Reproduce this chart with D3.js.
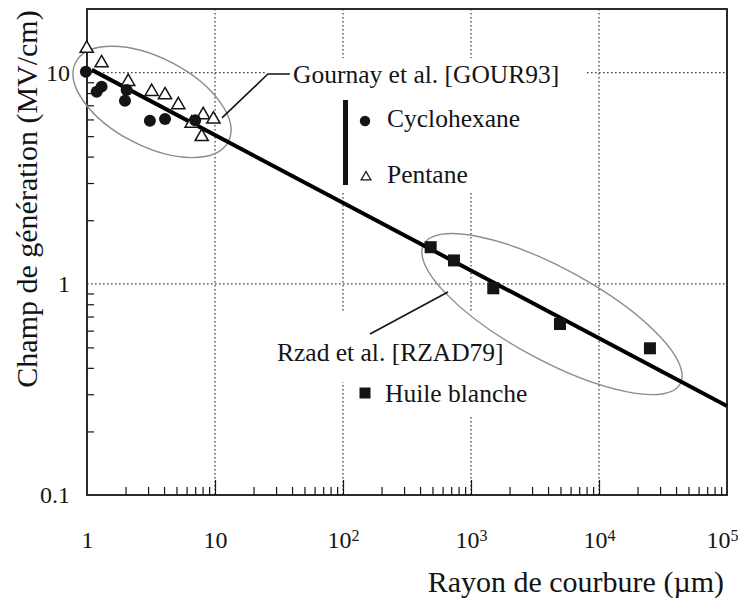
<!DOCTYPE html>
<html>
<head>
<meta charset="utf-8">
<script src="https://cdn.jsdelivr.net/npm/d3@7"></script>
<style>
  body { margin: 0; background: #fff; }
  svg { display: block; }
  svg text { font-family: "Liberation Serif", Tinos, "DejaVu Serif", serif; }
</style>
</head>
<body>
<svg id="chart" width="738" height="605" font-family="Liberation Serif, serif"></svg>
<script>
// Cyclohexane (filled circles) - Gournay et al.
const cycloX = [0.98, 1.19, 1.30, 2.04, 1.98, 3.10, 4.07, 7.0];
const cycloY = [10.1, 8.12, 8.58, 8.27, 7.35, 5.92, 6.03, 5.95];

// Pentane (open triangles) - Gournay et al.
const pentX = [0.995, 1.30, 2.10, 3.20, 4.07, 5.17, 6.57, 8.09, 9.72, 7.87];
const pentY = [13.0, 11.1, 9.06, 8.12, 7.83, 7.03, 5.75, 6.30, 6.01, 4.97];

// Huile blanche (filled squares) - Rzad et al.
const huileX = [484, 736, 1493, 4955, 25000];
const huileY = [1.49, 1.29, 0.952, 0.645, 0.495];

// fitted line
const fitX = [1.09, 1e5];
const fitY = [10.3, 0.264];

// ticks
const xTicks = [1, 10, 100, 1000, 10000, 100000];
const xTickLabels = ["1", "10", "10^2", "10^3", "10^4", "10^5"];
const yTicks = [0.1, 1, 10];
const yTickLabels = ["0.1", "1", "10"];

// groups circled on the chart (centre in data units)
const groupCentreX = [3.22, 4295];
const groupCentreY = [7.26, 0.719];

// leader lines from the labels to the ellipses
const gournayLeaderX = [11.34, 25.9, 38.5];
const gournayLeaderY = [6.10, 9.85, 9.85];
const rzadLeaderX = [162.6, 661];
const rzadLeaderY = [0.578, 0.915];

const svg = d3.select("#chart");
const x = d3.scaleLog().domain([1, 1e5]).range([87, 727]);
const y = d3.scaleLog().domain([0.1, 20]).range([495, 9]);
const ink = "#141414";
const serif = "Liberation Serif, Tinos, serif";

// minor ticks (2..9 in each decade)
const minorX = [];
for (let d = 1; d < 1e5; d *= 10) for (let k = 2; k <= 9; k++) minorX.push(d * k);
const minorY = [];
for (let d = 0.1; d < 10; d *= 10) for (let k = 2; k <= 9; k++) minorY.push(+(d * k).toPrecision(3));

// dotted grid
svg.append("g").selectAll("line")
  .data(xTicks.slice(1, -1))
  .join("line")
  .attr("x1", d => x(d)).attr("x2", d => x(d))
  .attr("y1", y(20)).attr("y2", y(0.1))
  .attr("stroke", "#444").attr("stroke-width", 1.3)
  .attr("stroke-dasharray", "1.6,2.4");
svg.append("g").selectAll("line")
  .data([1, 10])
  .join("line")
  .attr("x1", x(1)).attr("x2", x(1e5))
  .attr("y1", d => y(d)).attr("y2", d => y(d))
  .attr("stroke", "#444").attr("stroke-width", 1.3)
  .attr("stroke-dasharray", "1.6,2.4");

// white boxes behind the labels (they hide the grid)
const boxes = [[266, 58, 319, 39], [340, 97, 200, 95], [272, 312, 240, 70], [355, 382, 185, 33]];
svg.append("g").selectAll("rect")
  .data(boxes)
  .join("rect")
  .attr("x", d => d[0]).attr("y", d => d[1])
  .attr("width", d => d[2]).attr("height", d => d[3])
  .attr("fill", "#fff");

// bottom axis ticks
const xMinorAxis = d3.axisBottom(x).tickValues(minorX).tickSizeInner(-8).tickSizeOuter(0).tickFormat("");
svg.append("g").attr("transform", `translate(0,${y(0.1)})`).call(xMinorAxis)
  .call(g => g.select(".domain").remove())
  .call(g => g.selectAll("line").attr("stroke", ink).attr("stroke-width", 1.2));
const xMajorAxis = d3.axisBottom(x).tickValues(xTicks.slice(1, -1)).tickSizeInner(-15).tickSizeOuter(0).tickFormat("");
svg.append("g").attr("transform", `translate(0,${y(0.1)})`).call(xMajorAxis)
  .call(g => g.select(".domain").remove())
  .call(g => g.selectAll("line").attr("stroke", ink).attr("stroke-width", 1.2));
const xLabelAxis = d3.axisBottom(x).tickValues(xTicks).tickSize(0).tickPadding(36).tickFormat("");
svg.append("g").attr("transform", `translate(0,${y(0.1)})`).call(xLabelAxis)
  .attr("font-family", serif)
  .call(g => g.select(".domain").remove())
  .call(g => g.selectAll("text").each(function (d, i) {
    const t = d3.select(this).attr("font-size", 24).attr("fill", ink)
      .attr("dx", i === xTicks.length - 1 ? -5 : 0);
    const parts = xTickLabels[i].split("^");
    t.append("tspan").text(parts[0]);
    if (parts[1]) t.append("tspan").attr("dy", "-0.45em").attr("font-size", 16).text(parts[1]);
  }));

// left axis ticks
const yMinorAxis = d3.axisLeft(y).tickValues(minorY).tickSizeInner(-7).tickSizeOuter(0).tickFormat("");
svg.append("g").attr("transform", `translate(${x(1)},0)`).call(yMinorAxis)
  .call(g => g.select(".domain").remove())
  .call(g => g.selectAll("line").attr("stroke", ink).attr("stroke-width", 1.2));
const yLabelAxis = d3.axisLeft(y).tickValues(yTicks).tickSize(0).tickPadding(17)
  .tickFormat((d, i) => yTickLabels[i]);
svg.append("g").attr("transform", `translate(${x(1)},0)`).call(yLabelAxis)
  .attr("font-family", serif)
  .call(g => g.select(".domain").remove())
  .call(g => g.selectAll("text").attr("font-size", 24).attr("fill", ink));

// frame
svg.append("rect")
  .attr("x", x(1)).attr("y", y(20))
  .attr("width", x(1e5) - x(1)).attr("height", y(0.1) - y(20))
  .attr("fill", "none").attr("stroke", ink).attr("stroke-width", 1.8);

// ellipses around the two data sets
const ellipseShape = [[86, 44, 27.5], [146, 46, 28.5]];
svg.append("g").selectAll("ellipse")
  .data(groupCentreX)
  .join("ellipse")
  .attr("transform", (d, i) => `translate(${x(d)},${y(groupCentreY[i])}) rotate(${ellipseShape[i][2]})`)
  .attr("rx", (d, i) => ellipseShape[i][0])
  .attr("ry", (d, i) => ellipseShape[i][1])
  .attr("fill", "none").attr("stroke", "#8c8c8c").attr("stroke-width", 1.4);

// leader lines
const leader = d3.line().x(d => x(d[0])).y(d => y(d[1]));
svg.append("path")
  .attr("d", leader(d3.zip(gournayLeaderX, gournayLeaderY)))
  .attr("fill", "none").attr("stroke", ink).attr("stroke-width", 1.6);
svg.append("path")
  .attr("d", leader(d3.zip(rzadLeaderX, rzadLeaderY)))
  .attr("fill", "none").attr("stroke", ink).attr("stroke-width", 1.6);

// labels
const labels = [
  ["Gournay et al. [GOUR93]", 293, 83],
  ["Cyclohexane", 387, 127],
  ["Pentane", 387, 183],
  ["Rzad et al. [RZAD79]", 277, 361],
  ["Huile blanche", 385, 402]
];
svg.append("g").attr("font-family", serif).selectAll("text")
  .data(labels)
  .join("text")
  .attr("x", d => d[1]).attr("y", d => d[2])
  .attr("font-size", 25.5).attr("fill", ink)
  .text(d => d[0]);

// legend marks
svg.append("rect").attr("x", 343).attr("y", 100).attr("width", 5).attr("height", 85).attr("fill", ink);
svg.append("circle").attr("cx", 365).attr("cy", 121).attr("r", 5.2).attr("fill", ink);
svg.append("path")
  .attr("d", d3.symbol(d3.symbolTriangle).size(40)())
  .attr("transform", "translate(366,177)")
  .attr("fill", "#fff").attr("stroke", ink).attr("stroke-width", 1.3);
svg.append("rect").attr("x", 359.5).attr("y", 387.5).attr("width", 11).attr("height", 11).attr("fill", ink);

// axis titles
svg.append("text")
  .attr("x", 724).attr("y", 592)
  .attr("text-anchor", "end")
  .attr("font-family", serif)
  .attr("font-size", 30).attr("fill", ink)
  .text("Rayon de courbure (µm)");
svg.append("text")
  .attr("transform", "translate(37,199) rotate(-90)")
  .attr("text-anchor", "middle")
  .attr("font-family", serif)
  .attr("font-size", 30).attr("fill", ink)
  .text("Champ de génération (MV/cm)");

// fitted line
svg.append("path")
  .attr("d", leader(d3.zip(fitX, fitY)))
  .attr("fill", "none").attr("stroke", "#000").attr("stroke-width", 4);

// data points
svg.append("g").selectAll("path")
  .data(d3.zip(pentX, pentY))
  .join("path")
  .attr("d", d3.symbol(d3.symbolTriangle).size(75)())
  .attr("transform", d => `translate(${x(d[0])},${y(d[1])})`)
  .attr("fill", "#fff").attr("stroke", ink).attr("stroke-width", 1.5);
svg.append("g").selectAll("circle")
  .data(d3.zip(cycloX, cycloY))
  .join("circle")
  .attr("cx", d => x(d[0])).attr("cy", d => y(d[1]))
  .attr("r", 6).attr("fill", ink);
svg.append("g").selectAll("rect")
  .data(d3.zip(huileX, huileY))
  .join("rect")
  .attr("x", d => x(d[0]) - 6).attr("y", d => y(d[1]) - 6)
  .attr("width", 12).attr("height", 12).attr("fill", ink);
</script>
</body>
</html>
